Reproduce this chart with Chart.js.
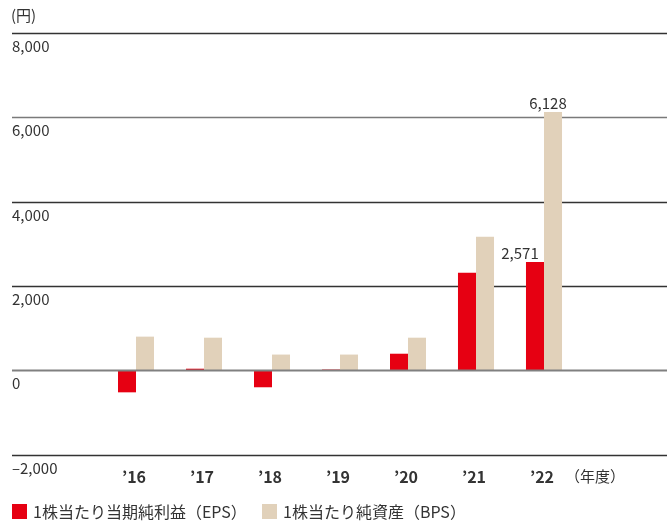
<!DOCTYPE html>
<html>
<head>
<meta charset="utf-8">
<script src="https://cdn.jsdelivr.net/npm/chart.js@4"></script>
<style>
  body { margin: 0; background: #fff; }
</style>
</head>
<body>
<canvas id="chart" width="667" height="523"></canvas>
<script>
const years = ["’16", "’17", "’18", "’19", "’20", "’21", "’22"];
const eps = [-515, 45, -395, 25, 400, 2320, 2571];
const bps = [805, 780, 380, 380, 780, 3170, 6128];
const yTicks = [8000, 6000, 4000, 2000, 0, -2000];
const labelled = [6];   // only the latest year carries value labels

const FONT = '"Noto Sans CJK JP", "Noto Sans", sans-serif';
const fmt = v => v.toLocaleString('en-US');

const overlay = {
    id: 'overlay',
    beforeDatasetsDraw(chart) {
        const ctx = chart.ctx;
        const y = chart.scales.y;
        ctx.save();
        yTicks.forEach(t => {
            if (t === 0) return;
            const py = Math.round(y.getPixelForValue(t)) + 0.5;
            ctx.strokeStyle = t === 6000 ? '#7a7a7a' : '#333';
            ctx.lineWidth = 1.3;
            ctx.beginPath();
            ctx.moveTo(12, py);
            ctx.lineTo(667, py);
            ctx.stroke();
        });
        ctx.restore();
    },
    afterDatasetsDraw(chart) {
        const ctx = chart.ctx;
        const x = chart.scales.x;
        const y = chart.scales.y;
        ctx.save();

        // zero line over the bars
        const y0 = y.getPixelForValue(0);
        ctx.strokeStyle = '#808080';
        ctx.lineWidth = 2;
        ctx.beginPath();
        ctx.moveTo(12, y0);
        ctx.lineTo(667, y0);
        ctx.stroke();

        // y tick labels, sitting under their lines
        ctx.fillStyle = '#333';
        ctx.font = '15px ' + FONT;
        ctx.textAlign = 'left';
        ctx.textBaseline = 'middle';
        yTicks.forEach(t => {
            const txt = t < 0 ? '–' + fmt(-t) : fmt(t);
            ctx.fillText(txt, 12, y.getPixelForValue(t) + 13);
        });
        ctx.fillText('(円)', 11, 15);

        // x labels
        ctx.textAlign = 'center';
        ctx.font = 'bold 16px ' + FONT;
        years.forEach((lab, i) => {
            ctx.fillText(lab, x.getPixelForValue(i) - 2, 477);
        });
        ctx.font = '15px ' + FONT;
        ctx.fillText('（年度）', 595, 476);

        // value labels
        ctx.font = '15px ' + FONT;
        ctx.textBaseline = 'bottom';
        const m0 = chart.getDatasetMeta(0);
        const m1 = chart.getDatasetMeta(1);
        labelled.forEach(i => {
            const a = m0.data[i];
            const b = m1.data[i];
            ctx.fillText(fmt(eps[i]), a.x - 15, a.y - 1);
            ctx.fillText(fmt(bps[i]), b.x - 5, b.y - 1);
        });

        // legend
        ctx.textAlign = 'left';
        ctx.textBaseline = 'middle';
        ctx.font = '16px ' + FONT;
        const items = [[12, 0], [262, 1]];
        items.forEach(([lx, d]) => {
            const ds = chart.data.datasets[d];
            ctx.fillStyle = ds.backgroundColor;
            ctx.fillRect(lx, 504, 15, 15);
            ctx.fillStyle = '#333';
            ctx.fillText(ds.label, lx + 21, 512);
        });
        ctx.restore();
    }
};

new Chart(document.getElementById('chart').getContext('2d'), {
    type: 'bar',
    data: {
        labels: years,
        datasets: [
            {
                label: '1株当たり当期純利益（EPS）',
                data: eps,
                backgroundColor: '#e60012',
                categoryPercentage: 0.53,
                barPercentage: 1.0,
            },
            {
                label: '1株当たり純資産（BPS）',
                data: bps,
                backgroundColor: '#e1d1ba',
                categoryPercentage: 0.53,
                barPercentage: 1.0,
            }
        ]
    },
    options: {
        responsive: false,
        animation: false,
        layout: {
            padding: { left: 102, right: 89, top: 33, bottom: 68 }
        },
        plugins: {
            legend: { display: false },
            tooltip: { enabled: false },
        },
        scales: {
            x: { display: false },
            y: { display: false, min: -2000, max: 8000 },
        }
    },
    plugins: [overlay]
});
</script>
</body>
</html>
